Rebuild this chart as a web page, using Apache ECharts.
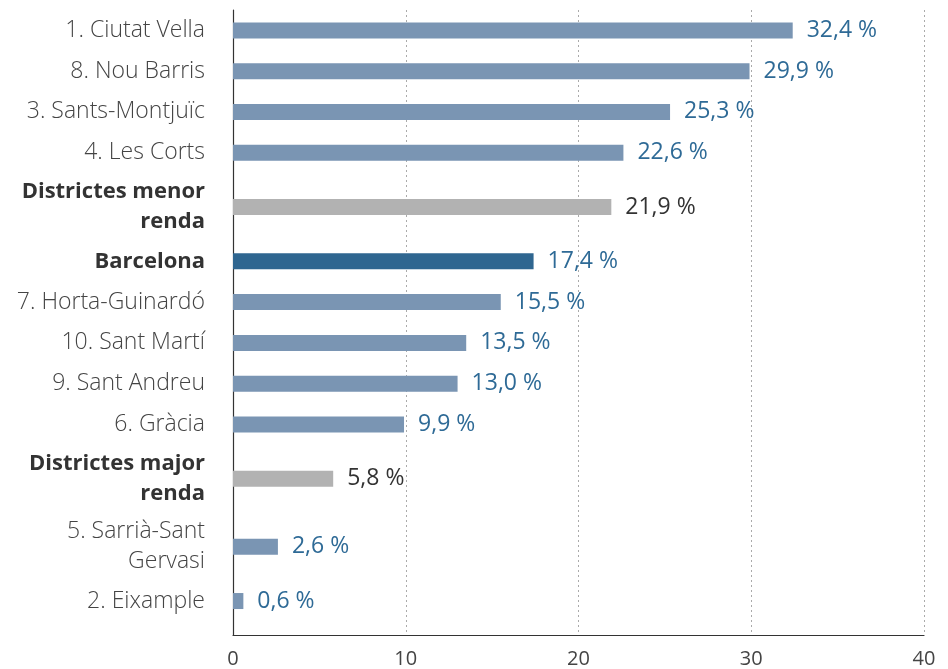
<!DOCTYPE html>
<html>
<head>
<meta charset="utf-8">
<script src="https://cdn.jsdelivr.net/npm/echarts@6/dist/echarts.min.js"></script>
<style>
  html, body { margin: 0; padding: 0; background: #fff; }
  #chart { width: 948px; height: 669px; }
</style>
</head>
<body>
<div id="chart"></div>
<script>
// data, top to bottom
const categories = [
  '1. Ciutat Vella', '8. Nou Barris', '3. Sants-Montjuïc', '4. Les Corts',
  'Districtes menor\nrenda', 'Barcelona', '7. Horta-Guinardó', '10. Sant Martí',
  '9. Sant Andreu', '6. Gràcia', 'Districtes major\nrenda', '5. Sarrià-Sant\nGervasi',
  '2. Eixample'
];
const values = [32.4, 29.9, 25.3, 22.6, 21.9, 17.4, 15.5, 13.5, 13.0, 9.9, 5.8, 2.6, 0.6];
// kind: d = district, g = group of districts, b = Barcelona
const kinds = ['d', 'd', 'd', 'd', 'g', 'b', 'd', 'd', 'd', 'd', 'g', 'd', 'd'];
const xTicks = [0, 10, 20, 30, 40];

const barColor = { d: '#7a95b3', g: '#b2b2b2', b: '#2f6690' };
const labelColor = { d: '#2e6a96', g: '#333333', b: '#2e6a96' };

// rows with two-line labels get more room: lay rows on a fine category grid,
// one slot per row plus empty spacer slots
const slotsBefore = 1, slotsAfter = 2;
const slotNames = [];
const slotRow = [];
function pushSpacer() { slotNames.push('_' + slotNames.length); slotRow.push(-1); }
for (let s = 0; s < slotsBefore; s++) pushSpacer();
categories.forEach((c, i) => {
  if (i > 0) {
    const gap = (categories[i - 1].includes('\n') ? 2.5 : 1.5) + (c.includes('\n') ? 2.5 : 1.5);
    for (let s = 1; s < gap; s++) pushSpacer();
  }
  slotNames.push(c);
  slotRow.push(i);
});
for (let s = 0; s < slotsAfter; s++) pushSpacer();

const seriesData = slotRow.map(i => i < 0 ? '-' : {
  value: values[i],
  itemStyle: { color: barColor[kinds[i]] },
  label: { color: labelColor[kinds[i]] }
});

const chart = echarts.init(document.getElementById('chart'));
chart.setOption({
  animation: false,
  grid: { left: 233, right: 24, top: 10, bottom: 34, containLabel: false },
  xAxis: {
    type: 'value',
    min: xTicks[0],
    max: xTicks[xTicks.length - 1],
    interval: 10,
    axisLine: { show: true, lineStyle: { color: '#333', width: 1.2 } },
    axisTick: { show: false },
    axisLabel: { color: '#444', fontSize: 20, fontFamily: 'Open Sans', fontWeight: 400, margin: 14 },
    splitLine: { show: true, lineStyle: { color: '#aaa', type: [2, 3], width: 1 } }
  },
  yAxis: {
    type: 'category',
    inverse: true,
    data: slotNames,
    axisLine: { show: true, lineStyle: { color: '#333', width: 1.2 } },
    axisTick: { show: false },
    axisLabel: {
      interval: 0,
      margin: 28,
      fontSize: 23,
      lineHeight: 30,
      fontFamily: 'Open Sans',
      fontWeight: 300,
      color: '#444',
      formatter: function (val, idx) {
        const r = slotRow[idx];
        if (r < 0) return '';
        const k = kinds[r];
        if (k === 'g' || k === 'b') {
          return val.split('\n').map(s => '{b|' + s + '}').join('\n');
        }
        return val;
      },
      rich: {
        b: { fontSize: 22, fontWeight: 'bold', color: '#333', fontFamily: 'Open Sans', lineHeight: 30 }
      }
    }
  },
  series: [{
    type: 'bar',
    data: seriesData,
    barWidth: 16,
    label: {
      show: true,
      position: 'right',
      distance: 14,
      fontSize: 23,
      fontFamily: 'Open Sans',
      fontWeight: 400,
      formatter: p => p.value.toFixed(1).replace('.', ',') + ' %'
    }
  }]
});
</script>
</body>
</html>
